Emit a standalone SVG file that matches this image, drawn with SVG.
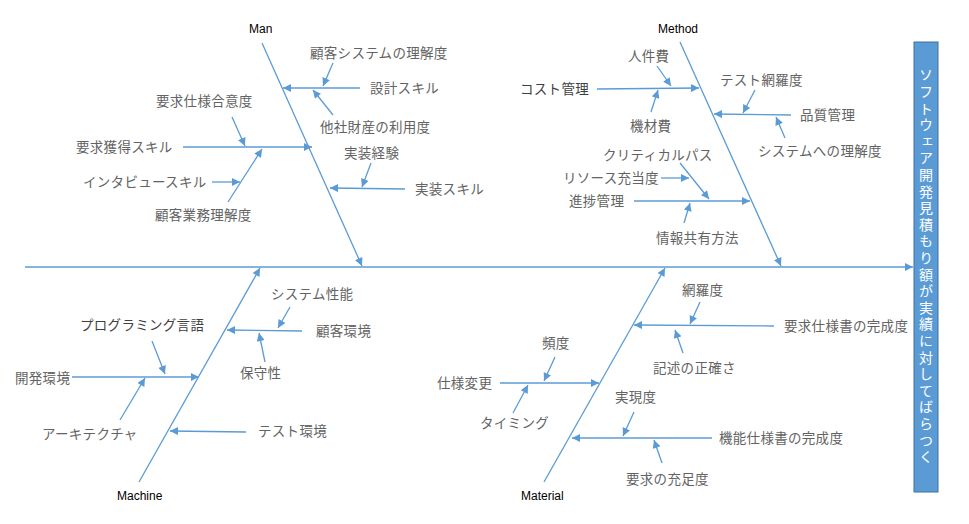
<svg xmlns="http://www.w3.org/2000/svg" width="969" height="524" viewBox="0 0 969 524">
<style>
.t{font-family:"Noto Sans CJK JP","Noto Sans",sans-serif;font-size:13.5px;letter-spacing:0.3px;fill:#636363}
.d{fill:#3f3f3f}
.c{font-family:"Liberation Sans",Arial,sans-serif;font-size:12px;fill:#000}
.l{stroke:#5b9bd5;stroke-width:1.3;fill:none;marker-end:url(#ah)}
.v{font-family:"Noto Sans CJK JP",sans-serif;font-size:14px;fill:#fff;writing-mode:vertical-rl;letter-spacing:2.6px}
</style>
<defs>
<marker id="ah" viewBox="0 0 10 10" refX="10" refY="5" markerWidth="9" markerHeight="8" markerUnits="userSpaceOnUse" orient="auto"><path d="M0,0 L10,5 L0,10 z" fill="#5b9bd5"/></marker>
</defs>
<rect width="969" height="524" fill="#fff"/>
<g id="connectors">
<line class="l" x1="25" y1="267" x2="913" y2="267"/>
<line class="l" x1="262" y1="43" x2="362" y2="266"/>
<line class="l" x1="680" y1="42" x2="781" y2="266"/>
<line class="l" x1="139" y1="482" x2="260" y2="268"/>
<line class="l" x1="544" y1="482" x2="665" y2="268"/>
<line class="l" x1="360" y1="88" x2="283" y2="88"/>
<line class="l" x1="333" y1="63" x2="323" y2="86"/>
<line class="l" x1="333" y1="115" x2="313" y2="90"/>
<line class="l" x1="183" y1="147" x2="312" y2="147"/>
<line class="l" x1="232" y1="117" x2="245" y2="146"/>
<line class="l" x1="212" y1="182" x2="240" y2="182"/>
<line class="l" x1="228" y1="202" x2="262" y2="149"/>
<line class="l" x1="405" y1="189" x2="330" y2="188"/>
<line class="l" x1="371" y1="163" x2="362" y2="187"/>
<line class="l" x1="597" y1="89" x2="699" y2="88"/>
<line class="l" x1="657" y1="66" x2="671" y2="86"/>
<line class="l" x1="651" y1="112" x2="658" y2="90"/>
<line class="l" x1="791" y1="115" x2="714" y2="114"/>
<line class="l" x1="755" y1="90" x2="743" y2="113"/>
<line class="l" x1="785" y1="138" x2="776" y2="117"/>
<line class="l" x1="634" y1="201" x2="750" y2="201"/>
<line class="l" x1="661" y1="178" x2="689" y2="178"/>
<line class="l" x1="680" y1="163" x2="709" y2="199"/>
<line class="l" x1="684" y1="223" x2="690" y2="203"/>
<line class="l" x1="302" y1="331" x2="227" y2="330"/>
<line class="l" x1="290" y1="307" x2="278" y2="328"/>
<line class="l" x1="265" y1="362" x2="259" y2="333"/>
<line class="l" x1="72" y1="377" x2="199" y2="377"/>
<line class="l" x1="152" y1="341" x2="165" y2="374"/>
<line class="l" x1="120" y1="420" x2="145" y2="378"/>
<line class="l" x1="246" y1="432" x2="170" y2="431"/>
<line class="l" x1="774" y1="326" x2="634" y2="325"/>
<line class="l" x1="700" y1="302" x2="690" y2="324"/>
<line class="l" x1="683" y1="353" x2="675" y2="330"/>
<line class="l" x1="500" y1="383" x2="599" y2="383"/>
<line class="l" x1="555" y1="357" x2="544" y2="381"/>
<line class="l" x1="513" y1="413" x2="528" y2="385"/>
<line class="l" x1="712" y1="438" x2="572" y2="438"/>
<line class="l" x1="634" y1="412" x2="623" y2="436"/>
<line class="l" x1="662" y1="463" x2="654" y2="440"/>
</g>
<g id="effect">
<rect x="914" y="42" width="24" height="450" fill="#5b9bd5" stroke="#41719c" stroke-width="1"/>
<text class="v" x="926" y="68">ソフトウェア開発見積もり額が実績に対してばらつく</text>
</g>
<g id="man">
<text class="c" x="249" y="33">Man</text>
<text class="t" x="310" y="58">顧客システムの理解度</text>
<text class="t" x="370" y="93">設計スキル</text>
<text class="t" x="320" y="132">他社財産の利用度</text>
<text class="t" x="156" y="106">要求仕様合意度</text>
<text class="t" x="76" y="152">要求獲得スキル</text>
<text class="t" x="83" y="187">インタビュースキル</text>
<text class="t" x="155" y="220">顧客業務理解度</text>
<text class="t" x="344" y="158">実装経験</text>
<text class="t" x="415" y="194">実装スキル</text>
</g>
<g id="method">
<text class="c" x="658" y="33">Method</text>
<text class="t" x="628" y="61">人件費</text>
<text class="t d" x="520" y="94">コスト管理</text>
<text class="t" x="630" y="131">機材費</text>
<text class="t" x="720" y="85">テスト網羅度</text>
<text class="t" x="800" y="120">品質管理</text>
<text class="t" x="758" y="156">システムへの理解度</text>
<text class="t" x="603" y="160">クリティカルパス</text>
<text class="t" x="563" y="183">リソース充当度</text>
<text class="t" x="569" y="206">進捗管理</text>
<text class="t" x="656" y="243">情報共有方法</text>
</g>
<g id="machine">
<text class="c" x="117" y="500">Machine</text>
<text class="t" x="271" y="299">システム性能</text>
<text class="t" x="316" y="336">顧客環境</text>
<text class="t d" x="80" y="330">プログラミング言語</text>
<text class="t" x="240" y="378">保守性</text>
<text class="t" x="15" y="383">開発環境</text>
<text class="t" x="42" y="439">アーキテクチャ</text>
<text class="t" x="258" y="436">テスト環境</text>
</g>
<g id="material">
<text class="c" x="521" y="500">Material</text>
<text class="t" x="682" y="295">網羅度</text>
<text class="t" x="784" y="331">要求仕様書の完成度</text>
<text class="t" x="653" y="373">記述の正確さ</text>
<text class="t" x="542" y="348">頻度</text>
<text class="t" x="437" y="388">仕様変更</text>
<text class="t" x="615" y="402">実現度</text>
<text class="t" x="480" y="428">タイミング</text>
<text class="t" x="719" y="443">機能仕様書の完成度</text>
<text class="t" x="626" y="484">要求の充足度</text>
</g>
</svg>
